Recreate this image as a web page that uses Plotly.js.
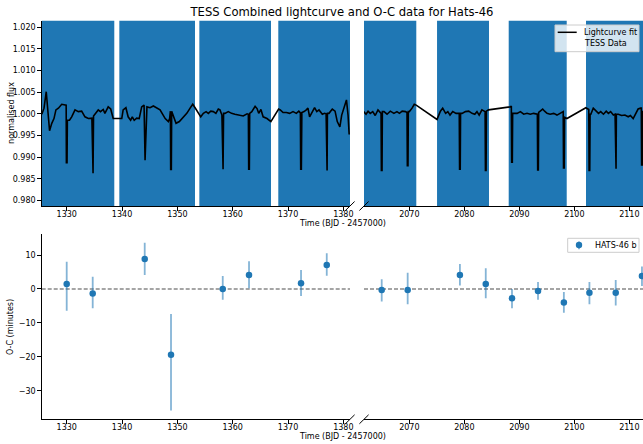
<!DOCTYPE html>
<html>
<head>
<meta charset="utf-8">
<script src="https://cdn.plot.ly/plotly-3.0.1.min.js"></script>
<style>html,body{margin:0;padding:0;background:#fff;}#chart{width:643px;height:444px;}</style>
</head>
<body>
<div id="chart"></div>
<script>
// ---------------- DATA ----------------
// TESS data coverage (sector segments) and flux extent of the dense point cloud
const tessStart    = [1325.48, 1339.51, 1353.97, 1368.24, 2061.76, 2075.04, 2088.07, 2102.13];
const tessEnd      = [1338.60, 1353.19, 1366.92, 1381.20, 2071.27, 2084.49, 2098.62, 2113.00];
const tessFluxLow  = [0.972, 0.972, 0.972, 0.972, 0.972, 0.972, 0.972, 0.972];
const tessFluxHigh = [1.028, 1.028, 1.028, 1.028, 1.028, 1.028, 1.028, 1.028];

// Lightcurve fit: out-of-transit baseline
const baseTime = [
  1325.5,1325.9,1326.3,1326.55,1326.9,1327.3,1327.7,1328.05,1328.5,1329.1,1329.7,1329.9,
  1330.12,1330.5,1330.9,1331.5,1332.1,1332.7,1333.3,1333.9,1334.55,
  1334.85,1335.1,1335.7,1336.1,1336.6,1336.9,1337.5,1337.95,1338.4,1339.95,
  1340.2,1340.7,1341.1,1341.55,1341.85,1342.2,1342.65,1343.1,1343.55,1343.98,
  1344.5,1345.06,1345.66,1346.27,1346.87,1347.8,1348.37,1348.6,1348.74,
  1348.97,1349.3,1349.76,1350.36,1351.08,1351.7,1352.3,1352.78,1353.2,1353.8,1354.23,
  1354.7,1355.19,1355.6,1356.04,1356.5,1356.96,1357.4,1357.7,1358.05,
  1358.35,1358.6,1359.2,1359.8,1360.4,1361.0,1361.9,1362.6,1362.83,
  1363.07,1363.45,1364.05,1364.4,1364.7,1365.1,1365.5,1366.2,1366.9,1368.3,1368.6,
  1369.1,1369.7,1370.3,1370.9,1371.5,1371.95,1372.23,
  1372.5,1372.9,1373.3,1373.6,1373.9,1374.3,1374.8,1375.2,1375.6,1376.2,1376.6,1376.88,
  1377.12,1377.4,1378.0,1378.5,1378.9,1379.37,1379.7,1380.1,1380.56,1380.85,1381.05,
  2061.7,2062.13,2062.5,2062.9,2063.35,2063.8,2064.3,2064.7,2064.86,
  2065.1,2065.4,2065.95,2066.55,2067.2,2067.75,2068.2,2068.7,2069.3,2069.58,
  2069.82,2070.0,2070.5,2070.9,2071.25,2075.04,2075.65,2076.07,2076.6,2077.0,2077.4,2077.9,2078.5,2079.08,
  2079.32,2079.6,2080.2,2080.8,2081.4,2081.9,2082.3,2082.7,2083.2,2083.6,2083.78,
  2084.02,2084.4,2088.4,2088.55,
  2088.79,2089.0,2089.6,2090.2,2090.8,2091.4,2092.0,2092.6,2093.2,2093.28,
  2093.52,2093.8,2094.25,2094.6,2095.04,2095.6,2096.25,2096.85,2097.45,2097.9,2097.98,
  2098.22,2098.67,2102.1,2102.63,
  2102.87,2103.0,2103.45,2103.95,2104.4,2104.8,2105.3,2105.8,2106.2,2106.6,2107.1,2107.41,
  2107.65,2108.0,2108.6,2109.2,2109.8,2110.2,2110.7,2111.2,2111.6,2112.05,2112.18,
  2112.42,2112.6
];
const baseFlux = [
  0.9999,1.0013,1.0051,1.0020,0.9961,0.9978,0.9989,1.0009,1.0013,1.0022,1.0020,1.0020,
  0.9985,0.9985,0.9993,1.0009,1.0005,1.0006,0.9993,0.9989,0.9990,
  0.9995,0.9999,1.0009,1.0005,1.0010,1.0001,1.0016,1.0011,0.9989,0.9989,
  1.0009,1.0014,0.9993,0.9985,0.9993,0.9985,0.9990,0.9989,1.0016,1.0020,
  1.0016,1.0014,1.0018,1.0014,1.0009,0.9989,0.9982,0.9989,1.0006,
  1.0006,0.9993,0.9978,0.9982,0.9993,1.0001,1.0013,1.0022,1.0014,1.0001,0.9993,
  1.0001,1.0005,1.0001,1.0006,1.0005,1.0001,1.0011,1.0009,0.9997,
  1.0001,1.0001,1.0005,1.0001,0.9999,0.9997,0.9995,1.0000,0.9999,
  1.0001,1.0005,1.0017,1.0012,1.0001,1.0010,0.9993,0.9989,0.9982,1.0011,1.0009,
  1.0003,1.0003,1.0001,1.0005,1.0001,1.0006,1.0002,
  1.0003,1.0005,1.0009,1.0013,0.9993,1.0001,1.0014,1.0005,1.0009,0.9999,1.0001,1.0000,
  1.0001,1.0001,1.0011,1.0006,0.9982,0.9970,0.9997,1.0016,1.0032,0.9997,0.9952,
  1.0005,0.9999,1.0006,1.0001,1.0005,0.9996,1.0009,1.0001,1.0001,
  1.0005,1.0005,0.9999,1.0006,1.0001,1.0005,1.0001,1.0006,1.0005,1.0003,
  1.0005,1.0005,1.0013,1.0022,1.0020,0.9987,1.0006,1.0013,1.0001,1.0005,0.9997,1.0005,1.0001,1.0001,
  1.0001,1.0001,1.0005,1.0006,1.0001,0.9999,1.0005,0.9997,1.0009,1.0005,1.0005,
  1.0006,1.0009,1.0016,1.0018,
  1.0001,1.0001,1.0001,1.0005,0.9999,1.0001,0.9999,1.0001,0.9999,0.9999,
  1.0003,1.0006,1.0011,1.0006,1.0001,0.9999,1.0001,0.9997,1.0001,1.0005,1.0005,
  0.9992,0.9989,1.0014,1.0010,
  0.9999,0.9999,1.0013,1.0006,1.0001,1.0005,0.9999,1.0006,1.0001,1.0005,0.9997,0.9999,
  0.9999,0.9999,0.9996,0.9997,0.9993,0.9996,0.9989,1.0001,1.0011,1.0013,1.0013,
  1.0005,1.0005
];

// Lightcurve fit: transit mid-times and transit bottom flux
const transitTime  = [1330.0, 1334.7, 1344.1, 1348.85, 1358.2, 1362.95, 1372.35, 1377.0,
                      2064.98, 2069.7, 2079.2, 2083.9, 2088.67, 2093.4, 2098.1, 2102.75, 2107.53, 2112.3];
const transitDepth = [0.9887, 0.98625, 0.98925, 0.98717, 0.9872, 0.9872, 0.9872, 0.9869,
                      0.9869, 0.9880, 0.9872, 0.9869, 0.9888, 0.98705, 0.9875, 0.9869, 0.9873, 0.9882];
const transitHalfBottom = 0.06; // days

// O-C data (minutes)
const ocTime     = [1330.0, 1334.7, 1344.1, 1348.85, 1358.2, 1362.95, 1372.35, 1377.0,
                    2064.98, 2069.7, 2079.2, 2083.9, 2088.67, 2093.4, 2098.1, 2102.75, 2107.53, 2112.3];
const ocValue    = [1.5, -1.3, 8.8, -19.4, 0.0, 4.1, 1.7, 7.1,
                    -0.3, -0.3, 4.1, 1.5, -2.75, -0.6, -4.0, -1.1, -1.1, 3.8];
const ocErrPlus  = [6.5, 4.9, 4.8, 12.0, 3.8, 4.1, 3.9, 3.4,
                    3.15, 5.1, 3.25, 4.6, 2.75, 2.65, 3.1, 3.15, 3.75, 2.8];
const ocErrMinus = [7.9, 4.4, 4.7, 16.4, 3.2, 3.9, 3.8, 3.2,
                    3.4, 4.2, 3.1, 4.25, 2.95, 2.6, 3.0, 3.4, 3.8, 2.9];

const titleText = 'TESS Combined lightcurve and O-C data for Hats-46';
const xLabel = 'Time (BJD - 2457000)';
const yLabelTop = 'normalised flux';
const yLabelBottom = 'O-C (minutes)';
const fitName = 'Lightcurve fit';
const dataName = 'TESS Data';
const ocName = 'HATS-46 b';

// ---------------- BUILD ----------------
const BREAK = 2000;
const W = 643, H = 444;
const px = v => v / W;
const py = v => 1 - v / H;
const FONT = 'DejaVu Sans';
const BLUE = '#1f77b4';
const ERRC = 'rgba(31,119,180,0.55)';

function bandPolys(left) {
  const x = [], y = [];
  for (let i = 0; i < tessStart.length; i++) {
    if ((tessStart[i] < BREAK) !== left) continue;
    x.push(tessStart[i], tessEnd[i], tessEnd[i], tessStart[i], tessStart[i], null);
    y.push(tessFluxLow[i], tessFluxLow[i], tessFluxHigh[i], tessFluxHigh[i], tessFluxLow[i], null);
  }
  return {x, y};
}

const fitPts = baseTime.map((t, i) => [t, baseFlux[i]]);
transitTime.forEach((t, i) => {
  fitPts.push([t - transitHalfBottom, transitDepth[i]]);
  fitPts.push([t + transitHalfBottom, transitDepth[i]]);
});
fitPts.sort((a, b) => a[0] - b[0]);
const fitL = fitPts.filter(p => p[0] < BREAK), fitR = fitPts.filter(p => p[0] >= BREAK);

function ocSel(left) {
  const idx = ocTime.map((t, i) => i).filter(i => (ocTime[i] < BREAK) === left);
  return {
    x: idx.map(i => ocTime[i]), y: idx.map(i => ocValue[i]),
    p: idx.map(i => ocErrPlus[i]), m: idx.map(i => ocErrMinus[i])
  };
}

const bL = bandPolys(true), bR = bandPolys(false);
const oL = ocSel(true), oR = ocSel(false);

const traces = [
  {x: bL.x, y: bL.y, xaxis: 'x', yaxis: 'y', mode: 'lines', fill: 'toself', fillcolor: BLUE,
   line: {width: 0, color: BLUE}, name: dataName, showlegend: false, hoverinfo: 'skip'},
  {x: bR.x, y: bR.y, xaxis: 'x2', yaxis: 'y', mode: 'lines', fill: 'toself', fillcolor: BLUE,
   line: {width: 0, color: BLUE}, name: dataName, showlegend: false, hoverinfo: 'skip'},
  {x: fitL.map(p => p[0]), y: fitL.map(p => p[1]), xaxis: 'x', yaxis: 'y', mode: 'lines',
   line: {color: '#000', width: 1.6}, name: fitName, showlegend: false},
  {x: fitR.map(p => p[0]), y: fitR.map(p => p[1]), xaxis: 'x2', yaxis: 'y', mode: 'lines',
   line: {color: '#000', width: 1.6}, name: fitName, showlegend: false},
  {x: oL.x, y: oL.y, xaxis: 'x3', yaxis: 'y3', mode: 'markers', name: ocName, showlegend: false,
   marker: {color: BLUE, size: 6.5},
   error_y: {type: 'data', symmetric: false, array: oL.p, arrayminus: oL.m, color: ERRC, thickness: 1.8, width: 0}},
  {x: oR.x, y: oR.y, xaxis: 'x4', yaxis: 'y3', mode: 'markers', name: ocName, showlegend: false,
   marker: {color: BLUE, size: 6.5},
   error_y: {type: 'data', symmetric: false, array: oR.p, arrayminus: oR.m, color: ERRC, thickness: 1.8, width: 0}}
];

const domL = [px(41.7), px(350)], domR = [px(364), 1];
const domTop = [py(206), py(20.7)], domBot = [py(419.3), py(234)];
const rngL = [1325.48, 1381.2], rngR = [2061.76, 2112.49];

const axBase = {
  showgrid: false, zeroline: false, showline: true, linecolor: '#000', linewidth: 1,
  ticks: 'outside', ticklen: 3.5, tickwidth: 1, tickcolor: '#000',
  tickfont: {family: FONT, size: 8, color: '#000'}, fixedrange: true
};
const xBase = Object.assign({}, axBase, {ticklabelstandoff: -3});

const layout = {
  width: W, height: H, margin: {l: 0, r: 0, t: 0, b: 0}, paper_bgcolor: '#fff', plot_bgcolor: 'rgba(0,0,0,0)',
  showlegend: false,
  title: {text: titleText, font: {family: FONT, size: 11.6, color: '#000'}, x: px(342), xanchor: 'center',
          y: 1 - 11.5 / H, yanchor: 'middle'},
  xaxis:  Object.assign({}, xBase, {domain: domL, range: rngL, anchor: 'y', dtick: 10}),
  xaxis2: Object.assign({}, xBase, {domain: domR, range: rngR, anchor: 'y', dtick: 10}),
  yaxis:  Object.assign({}, axBase, {domain: domTop, range: [0.9787, 1.0215], anchor: 'x', dtick: 0.005, tickformat: '.3f'}),
  xaxis3: Object.assign({}, xBase, {domain: domL, range: rngL, anchor: 'y3', dtick: 10}),
  xaxis4: Object.assign({}, xBase, {domain: domR, range: rngR, anchor: 'y3', dtick: 10}),
  yaxis3: Object.assign({}, axBase, {domain: domBot, range: [-38.4, 16.2], anchor: 'x3', dtick: 10}),
  shapes: [],
  annotations: []
};

// zero reference lines
['x3', 'x4'].forEach(xa => layout.shapes.push({type: 'line', xref: xa + ' domain', x0: 0, x1: 1, yref: 'y3', y0: 0, y1: 0,
  line: {color: 'rgba(0,0,0,0.7)', width: 1.2, dash: '4px,2px'}, layer: 'below'}));

// broken-axis marks
const dX = 4.6 / W, dY = 4.5 / H;
[domL[1], domR[0]].forEach(xc => [domTop[0], domBot[0]].forEach(yc => layout.shapes.push({
  type: 'line', xref: 'paper', yref: 'paper', x0: xc - dX, y0: yc - dY, x1: xc + dX, y1: yc + dY,
  line: {color: '#000', width: 1}})));

// legends (drawn manually to match compact matplotlib legends)
layout.shapes.push({type: 'rect', xref: 'paper', yref: 'paper', x0: px(555), x1: px(639), y0: py(51.7), y1: py(25),
  fillcolor: 'rgba(255,255,255,0.8)', line: {color: '#cccccc', width: 1}, layer: 'above'});
layout.shapes.push({type: 'line', xref: 'paper', yref: 'paper', x0: px(557.7), x1: px(576.7), y0: py(32.3), y1: py(32.3),
  line: {color: '#000', width: 1.5}, layer: 'above'});
layout.shapes.push({type: 'rect', xref: 'paper', yref: 'paper', x0: px(567.7), x1: px(639), y0: py(252.3), y1: py(238.3),
  fillcolor: 'rgba(255,255,255,0.8)', line: {color: '#cccccc', width: 1}, layer: 'above'});
layout.shapes.push({type: 'line', xref: 'paper', yref: 'paper', x0: px(579), x1: px(579), y0: py(249.2), y1: py(241.4),
  line: {color: ERRC, width: 1.8}, layer: 'above'});
layout.shapes.push({type: 'circle', xref: 'paper', yref: 'paper', x0: px(575.8), x1: px(582.2), y0: py(248.2), y1: py(241.8),
  fillcolor: BLUE, line: {color: BLUE, width: 0}, layer: 'above'});

const ann = (text, x, y, opts) => layout.annotations.push(Object.assign({
  text, xref: 'paper', yref: 'paper', x: px(x), y: py(y), showarrow: false,
  font: {family: FONT, size: 8, color: '#000'}, xanchor: 'center', yanchor: 'middle'}, opts || {}));

ann(fitName, 581.7, 32.3, {xanchor: 'left'});
ann(dataName, 581.7, 44, {xanchor: 'left'});
ann(ocName, 593.3, 245, {xanchor: 'left'});
ann(xLabel, 342, 223.8);
ann(xLabel, 342, 436.5);
ann(yLabelTop, 11.5, 113.4, {textangle: -90});
ann(yLabelBottom, 10.3, 326.7, {textangle: -90});

Plotly.newPlot('chart', traces, layout, {displayModeBar: false, staticPlot: true});
</script>
</body>
</html>
